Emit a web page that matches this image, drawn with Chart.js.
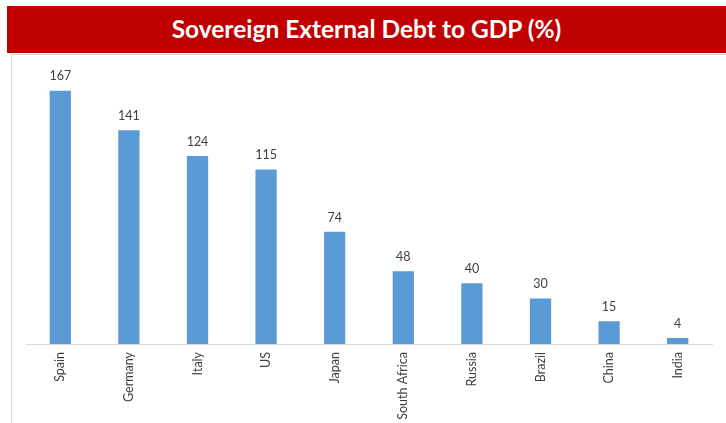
<!DOCTYPE html>
<html><head><meta charset="utf-8">
<script src="https://cdn.jsdelivr.net/npm/chart.js@4"></script>
<style>
html,body{margin:0;padding:0;background:#fff;width:726px;height:423px;overflow:hidden;}
#title{position:absolute;left:7px;top:6px;width:719px;height:47px;background:#C00000;color:#fff;
 font-family:Lato,"Open Sans",sans-serif;font-weight:bold;font-size:24.5px;line-height:46px;text-align:center;}
#frame{position:absolute;left:11px;top:54px;width:715px;height:369px;border-left:1px solid #D9D9D9;border-top:1px solid #D9D9D9;}
#wrap{position:absolute;left:0;top:0;width:726px;height:423px;}
</style></head>
<body>
<div id="title">Sovereign External Debt to GDP (%)</div>
<div id="frame"></div>
<div id="wrap"><canvas id="c" width="726" height="423"></canvas></div>
<script>
const categories = ["Spain","Germany","Italy","US","Japan","South Africa","Russia","Brazil","China","India"];
const debtToGdp = [167,141,124,115,74,48,40,30,15,4];

const labelPlugin = {
  id:'barLabels',
  afterDatasetsDraw(chart){
    const ctx = chart.ctx;
    const meta = chart.getDatasetMeta(0);
    ctx.save();
    ctx.font = '12.5px Lato, "Open Sans", sans-serif';
    ctx.fillStyle = '#404040';
    ctx.textAlign = 'center';
    ctx.textBaseline = 'bottom';
    meta.data.forEach((bar,i)=>{
      ctx.fillText(String(debtToGdp[i]), bar.x, bar.y - 8);
    });
    ctx.restore();
  }
};

new Chart(document.getElementById('c'), {
  type:'bar',
  data:{labels:categories, datasets:[{data:debtToGdp, backgroundColor:'#5B9BD5', borderWidth:0,
    categoryPercentage:1, barPercentage:0.31}]},
  options:{
    responsive:false, animation:false,
    layout:{padding:{left:26,right:14,top:71,bottom:0}},
    plugins:{legend:{display:false},tooltip:{enabled:false},title:{display:false}},
    scales:{
      x:{
        grid:{display:false, drawTicks:false},
        border:{display:true,color:'#D9D9D9',width:1},
        ticks:{minRotation:90,maxRotation:90,padding:8,color:'#404040',
          font:{family:'Lato, "Open Sans", sans-serif',size:12.5}},
        afterFit(scale){scale.height = 79;}
      },
      y:{display:false,min:0,max:180}
    }
  },
  plugins:[labelPlugin]
});
</script>
</body></html>
